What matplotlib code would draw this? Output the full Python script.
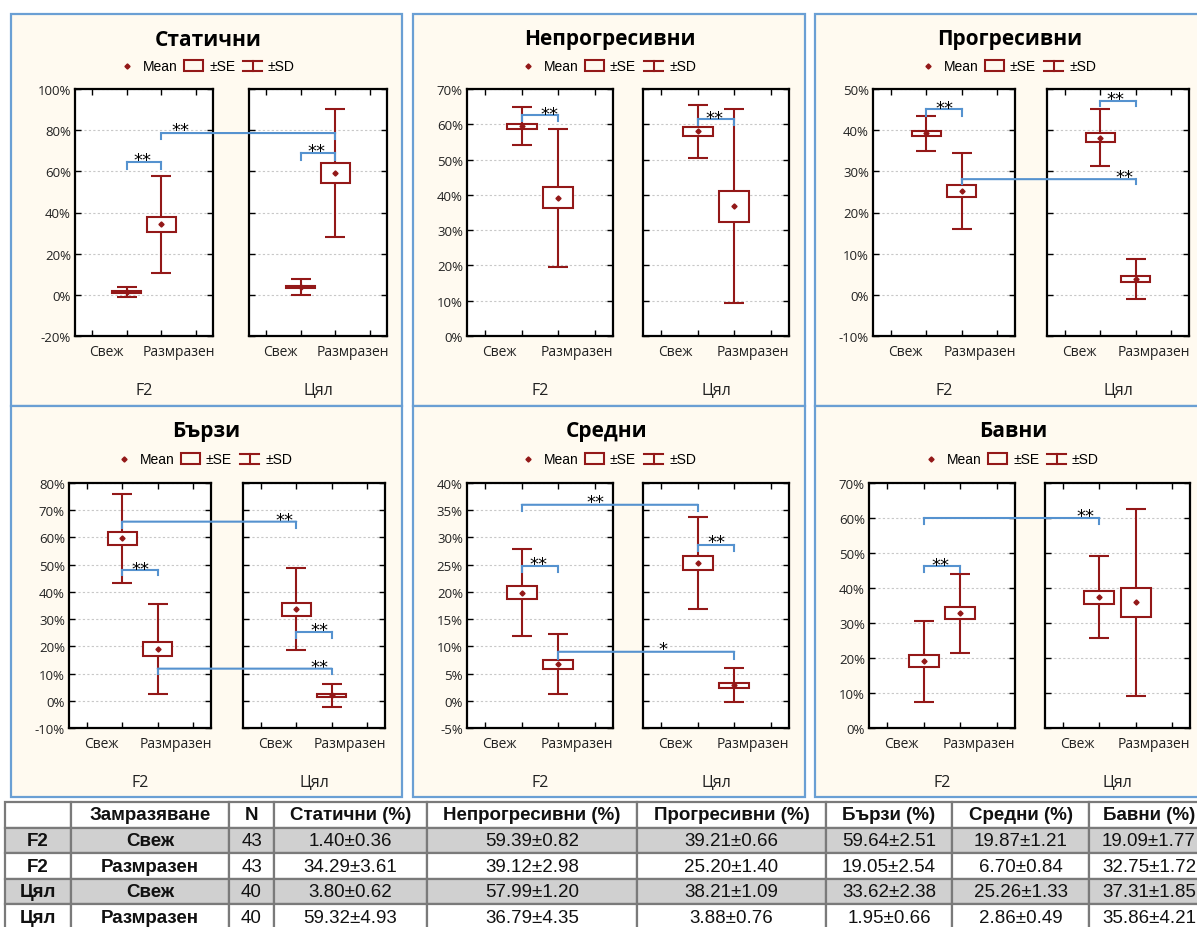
import matplotlib
matplotlib.use("Agg")
import matplotlib.pyplot as plt
from matplotlib import font_manager
from matplotlib.patches import Rectangle, ConnectionPatch
from matplotlib.lines import Line2D

row_groups = ["F2", "F2", "Цял", "Цял"]
row_freeze = ["Свеж", "Размразен", "Свеж", "Размразен"]
n_values = [43, 43, 40, 40]
group_names = ["F2", "Цял"]
freeze_names = ["Свеж", "Размразен"]
metrics = ["Статични", "Непрогресивни", "Прогресивни", "Бързи", "Средни", "Бавни"]

mean_static = [1.40, 34.29, 3.80, 59.32]
se_static = [0.36, 3.61, 0.62, 4.93]
sd_static = [2.36, 23.67, 3.92, 31.18]

mean_nonprog = [59.39, 39.12, 57.99, 36.79]
se_nonprog = [0.82, 2.98, 1.20, 4.35]
sd_nonprog = [5.38, 19.54, 7.59, 27.51]

mean_prog = [39.21, 25.20, 38.21, 3.88]
se_prog = [0.66, 1.40, 1.09, 0.76]
sd_prog = [4.33, 9.18, 6.89, 4.81]

mean_fast = [59.64, 19.05, 33.62, 1.95]
se_fast = [2.51, 2.54, 2.38, 0.66]
sd_fast = [16.46, 16.66, 15.05, 4.17]

mean_medium = [19.87, 6.70, 25.26, 2.86]
se_medium = [1.21, 0.84, 1.33, 0.49]
sd_medium = [7.93, 5.51, 8.41, 3.10]

mean_slow = [19.09, 32.75, 37.31, 35.86]
se_slow = [1.77, 1.72, 1.85, 4.21]
sd_slow = [11.61, 11.28, 11.70, 26.63]

y_limits = [(-20, 100, 20), (0, 70, 10), (-10, 50, 10), (-10, 80, 10), (-5, 40, 5), (0, 70, 10)]

# significance brackets: (axA, xA, axB, xB, y, drop, label, label_ax, label_x, label_y)
brackets = [
    [(0, 1, 0, 2, 64.3, 3.0, "**", 0, 1.47, 67.0),
     (0, 2, 1, 2, 78.6, 3.0, "**", 0, 2.55, 81.5),
     (1, 1, 1, 2, 68.7, 3.2, "**", 1, 1.45, 71.5)],
    [(0, 1, 0, 2, 62.6, 1.6, "**", 0, 1.75, 63.8),
     (1, 1, 1, 2, 61.5, 1.7, "**", 1, 1.47, 62.7)],
    [(0, 1, 0, 2, 45.1, 1.6, "**", 0, 1.50, 46.2),
     (1, 1, 1, 2, 47.2, 1.4, "**", 1, 1.42, 48.4),
     (0, 2, 1, 2, 28.1, 1.2, "**", 1, 1.69, 29.3)],
    [(0, 1, 1, 1, 65.8, 2.5, "**", 1, 0.68, 67.6),
     (0, 1, 0, 2, 48.1, 2.0, "**", 0, 1.50, 49.7),
     (1, 1, 1, 2, 25.2, 2.0, "**", 1, 1.66, 27.3),
     (0, 2, 1, 2, 11.8, 2.0, "**", 1, 1.66, 13.6)],
    [(0, 1, 1, 1, 36.0, 1.2, "**", 0, 3.03, 37.1),
     (0, 1, 0, 2, 24.8, 1.2, "**", 0, 1.47, 25.6),
     (1, 1, 1, 2, 28.6, 1.1, "**", 1, 1.50, 29.7),
     (0, 2, 1, 2, 9.0, 1.3, "*", 1, 0.04, 10.0)],
    [(0, 1, 1, 1, 60.0, 1.6, "**", 1, 0.63, 61.4),
     (0, 1, 0, 2, 46.2, 1.7, "**", 0, 1.47, 47.4)],
]

table_means = [mean_static, mean_nonprog, mean_prog, mean_fast, mean_medium, mean_slow]
table_se = [se_static, se_nonprog, se_prog, se_fast, se_medium, se_slow]
table_sd = [sd_static, sd_nonprog, sd_prog, sd_fast, sd_medium, sd_slow]

# --- style ---
RED = "#931818"
BLUE = "#5592cf"
PANEL_BG = "#fffaf0"
PANEL_EDGE = "#6a9fd4"
CHART_FONT = ["Open Sans", "DejaVu Sans"]
LEGEND_FONT = ["Liberation Sans", "DejaVu Sans"]


def has_font(name):
    try:
        font_manager.findfont(name, fallback_to_default=False)
        return True
    except Exception:
        return False


TABLE_FONT = ["Liberation Sans Narrow" if has_font("Liberation Sans Narrow") else "Liberation Sans", "DejaVu Sans"]
TABLE_SIZE = 14.5 if TABLE_FONT[0] == "Liberation Sans Narrow" else 13.5

W, H = 1197, 928
fig = plt.figure(figsize=(W / 100, H / 100), dpi=100)


def fx(px):
    return px / W


def fy(py):
    return 1 - py / H


# panel frames and axes positions in pixels
panel_rects = [(11, 15, 402, 407), (413, 15, 805, 407), (815, 15, 1205, 407),
               (11, 407, 402, 798), (413, 407, 805, 798), (815, 407, 1205, 798)]
axes_x = [((75, 213), (249, 387)), ((467, 613), (643, 789)), ((873, 1015), (1047, 1189)),
          ((69, 211), (243, 385)), ((467, 613), (643, 789)), ((869, 1015), (1045, 1190))]
axes_y = [(90, 337)] * 3 + [(484, 729)] * 3
title_pos = [(208, 40), (610, 40), (1010, 40), (206, 432), (607, 432), (1013, 432)]
legend_pos = [(127, 67), (528, 67), (928, 67), (124, 460), (528, 460), (931, 460)]

for k, metric in enumerate(metrics):
    x0, y0, x1, y1 = panel_rects[k]
    fig.patches.append(Rectangle((fx(x0), fy(y1)), (x1 - x0) / W, (y1 - y0) / H,
                                 transform=fig.transFigure, facecolor=PANEL_BG,
                                 edgecolor=PANEL_EDGE, lw=1.6, zorder=-1))

    tx, ty = title_pos[k]
    fig.text(fx(tx), fy(ty), metric, ha="center", va="center", fontsize=15,
             fontweight="bold", family=CHART_FONT)

    # legend
    lx, ly = legend_pos[k]
    fig.add_artist(Line2D([fx(lx)], [fy(ly)], marker="D", markersize=2.6, color=RED,
                          transform=fig.transFigure, ls="none"))
    fig.text(fx(lx + 16), fy(ly), "Mean", ha="left", va="center", fontsize=10, family=LEGEND_FONT)
    fig.patches.append(Rectangle((fx(lx + 57), fy(ly + 5)), 19 / W, 11 / H, transform=fig.transFigure,
                                 facecolor="none", edgecolor=RED, lw=1.5, zorder=2))
    fig.text(fx(lx + 82), fy(ly), "±SE", ha="left", va="center", fontsize=10, family=LEGEND_FONT)
    sx = lx + 116
    for seg in [([sx, sx + 19], [ly - 5, ly - 5]), ([sx, sx + 19], [ly + 5, ly + 5]),
                ([sx + 9.5, sx + 9.5], [ly - 5, ly + 5])]:
        fig.add_artist(Line2D([fx(v) for v in seg[0]], [fy(v) for v in seg[1]], color=RED,
                              lw=1.5, transform=fig.transFigure))
    fig.text(fx(lx + 141), fy(ly), "±SD", ha="left", va="center", fontsize=10, family=LEGEND_FONT)

    ylo, yhi, ystep = y_limits[k]
    ay0, ay1 = axes_y[k]
    axs = []
    for g in range(2):
        ax0, ax1 = axes_x[k][g]
        ax = fig.add_axes([fx(ax0), fy(ay1), (ax1 - ax0) / W, (ay1 - ay0) / H])
        ax.set_zorder(1)
        ax.set_facecolor("white")
        ax.set_xlim(-0.5, 3.5)
        ax.set_ylim(ylo, yhi)
        yt = list(range(ylo, yhi + 1, ystep))
        ax.set_yticks(yt)
        ax.set_yticklabels([f"{v}%" for v in yt], family=CHART_FONT)
        ax.set_xticks([0, 1, 2, 3])
        ax.tick_params(direction="in", length=4, width=1, top=True, right=True,
                       labelbottom=False, labelsize=9.5, labelcolor="#222222",
                       labelleft=(g == 0), pad=3)
        ax.grid(axis="y", color="#c8c8c8", lw=0.8, ls=(0, (2, 2)))
        ax.set_axisbelow(True)
        for sp in ax.spines.values():
            sp.set_linewidth(1.6)
            sp.set_color("black")

        means = table_means[k][2 * g:2 * g + 2]
        ses = table_se[k][2 * g:2 * g + 2]
        sds = table_sd[k][2 * g:2 * g + 2]
        xs = [1, 2]
        ax.errorbar(xs, means, yerr=sds, fmt="none", ecolor=RED, elinewidth=1.5,
                    capsize=7.4, capthick=1.5, zorder=3)
        ax.bar(xs, [2 * s for s in ses], bottom=[m - s for m, s in zip(means, ses)],
               width=0.83, facecolor="white", edgecolor=RED, lw=1.5, zorder=4)
        ax.plot(xs, means, ls="none", marker="D", markersize=2.6, color=RED, zorder=5)

        ax.text(0.4, -16 / (ay1 - ay0), freeze_names[0], transform=ax.get_xaxis_transform(),
                ha="center", va="center", fontsize=10, family=CHART_FONT, color="#222222")
        ax.text(2.5, -16 / (ay1 - ay0), freeze_names[1], transform=ax.get_xaxis_transform(),
                ha="center", va="center", fontsize=10, family=CHART_FONT, color="#222222")
        ax.text(0.5, -54 / (ay1 - ay0), group_names[g], transform=ax.transAxes,
                ha="center", va="center", fontsize=11.5, family=CHART_FONT, color="#222222")
        axs.append(ax)

    for (a1, x1, a2, x2, yb, drop, lab, la, lbx, lby) in brackets[k]:
        A, B = axs[a1], axs[a2]
        A.plot([x1, x1], [yb - drop, yb], color=BLUE, lw=1.5, clip_on=False, zorder=6)
        B.plot([x2, x2], [yb - drop, yb], color=BLUE, lw=1.5, clip_on=False, zorder=6)
        if a1 == a2:
            A.plot([x1, x2], [yb, yb], color=BLUE, lw=1.5, clip_on=False, zorder=6)
        else:
            con = ConnectionPatch(xyA=(x1, yb), coordsA=A.transData, xyB=(x2, yb),
                                  coordsB=B.transData, color=BLUE, lw=1.5, zorder=6)
            fig.add_artist(con)
        axs[la].annotate(lab, (lbx, lby), xytext=(0, -5.8), textcoords="offset points",
                         ha="center", va="baseline", fontsize=13, family="DejaVu Sans",
                         annotation_clip=False, zorder=7)

# --- table ---
col_px = [66, 158, 45, 153, 210, 189, 126, 137, 120]
tab_ax = fig.add_axes([fx(5), fy(931), sum(col_px) / W, 128 / H])
tab_ax.axis("off")
cell_text = []
for i in range(4):
    row = [row_groups[i], row_freeze[i], str(n_values[i])]
    for m, s in zip(table_means, table_se):
        row.append(f"{m[i]:.2f}±{s[i]:.2f}")
    cell_text.append(row)
col_labels = ["", "Замразяване", "N"] + [f"{m} (%)" for m in metrics]
tbl = tab_ax.table(cellText=cell_text, colLabels=col_labels,
                   colWidths=[w / sum(col_px) for w in col_px],
                   bbox=[0, 0, 1, 1], cellLoc="center")
tbl.auto_set_font_size(False)
tbl.set_fontsize(TABLE_SIZE)
for (r, c), cell in tbl.get_celld().items():
    cell.set_edgecolor("#7a7a7a")
    cell.set_linewidth(1.6)
    cell.set_facecolor("#d0d0d0" if r in (1, 3) else "white")
    t = cell.get_text()
    t.set_fontfamily(TABLE_FONT)
    t.set_color("#111111")
    if r == 0 or c in (0, 1):
        t.set_fontweight("bold")

fig.savefig("out.png", dpi=100, facecolor="white")
